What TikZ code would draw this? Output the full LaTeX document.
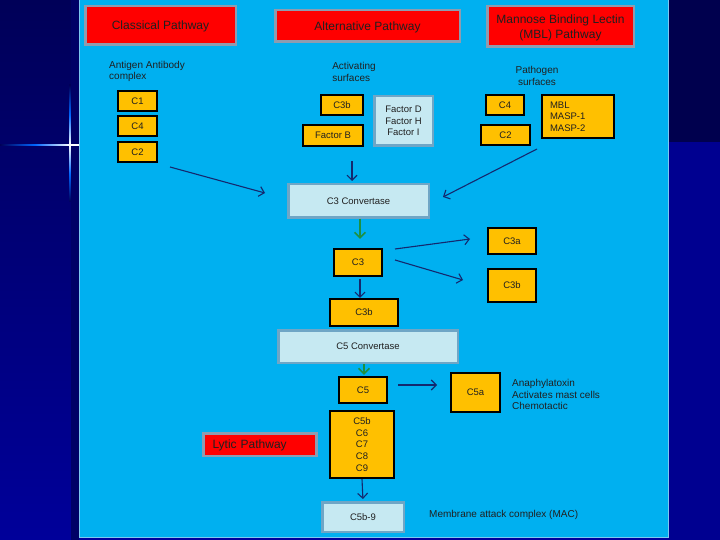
\documentclass[tikz,border=0pt]{standalone}
\usepackage{fontspec}
\setmainfont{Liberation Sans}
\usetikzlibrary{arrows.meta}
\definecolor{panel}{HTML}{00B0F0}
\definecolor{paneledge}{HTML}{7CC8F0}
\definecolor{bgtop}{HTML}{000058}
\definecolor{bgbot}{HTML}{00009A}
\definecolor{stripe}{HTML}{000066}
\definecolor{rtop}{HTML}{00004E}
\definecolor{rbot}{HTML}{000090}
\definecolor{redfill}{HTML}{FF0000}
\definecolor{rededge}{HTML}{8E9CB0}
\definecolor{yfill}{HTML}{FFC000}
\definecolor{lfill}{HTML}{C6E9F2}
\definecolor{ledge}{HTML}{6FA6C6}
\definecolor{arrcol}{HTML}{14286E}
\definecolor{grn}{HTML}{1E9040}
\definecolor{txt}{HTML}{202020}
\tikzset{
  redbox/.style={fill=redfill, draw=rededge, line width=2.5pt, align=center, inner sep=0pt,
    text=txt, text depth=0pt, font=\fontsize{12}{14}\selectfont},
  ybox/.style={fill=yfill, draw=black, line width=2.2pt, align=center, inner sep=0pt,
    text=txt, font=\fontsize{9.5}{11.6}\selectfont},
  lbox/.style={fill=lfill, draw=ledge, line width=2.5pt, align=center, inner sep=0pt,
    text=txt, font=\fontsize{9.5}{11.6}\selectfont},
  note/.style={text=txt, inner sep=0pt, font=\fontsize{10}{11.2}\selectfont},
  arr/.style={draw=arrcol, line width=1.1pt, -{Straight Barb[length=5pt,width=10pt]}},
  garr/.style={draw=grn, line width=1.6pt, -{Straight Barb[length=5.5pt,width=11pt]}},
}
\begin{document}
\begin{tikzpicture}[x=1pt,y=-1pt]
\useasboundingbox (0,0) rectangle (720,540);
% background
\shade[top color=bgtop, bottom color=bgbot] (0,0) rectangle (720,540);
\fill[stripe] (71,0) rectangle (79,540);
\fill[rtop] (668,0) rectangle (720,142);
\fill[rbot] (668,142) rectangle (720,540);
% sparkle
\shade[left color=bgtop, right color=white, middle color=blue!60!cyan] (0,144.3) rectangle (70,145.7);
\fill[white] (70,144.3) rectangle (79,145.7);
\shade[top color=bgtop, bottom color=white, middle color=blue!60!cyan] (69.3,85) rectangle (70.7,145);
\shade[top color=white, bottom color=bgtop, middle color=blue!60!cyan] (69.3,145) rectangle (70.7,202);
% panel
\fill[panel] (79,0) rectangle (669,538);
\draw[paneledge, line width=0.8pt] (79.4,0) -- (79.4,537.6) -- (668.6,537.6) -- (668.6,0);

% pathway titles
\node[redbox, minimum width=150.5, minimum height=38.5] (classical) at (160.5,25.5) {Classical Pathway};
\node[redbox, minimum width=184.5, minimum height=31.5] (alternative) at (367.5,26) {Alternative Pathway};
\node[redbox, minimum width=146.5, minimum height=40.5, font=\fontsize{12}{14.5}\selectfont] (mbl) at (560.5,26.5) {Mannose Binding Lectin\\(MBL) Pathway};

% surfaces labels
\node[note, anchor=north west, align=left] (antigen) at (109,61) {Antigen Antibody\\complex};
\node[note, align=left] (activating) at (354,72) {Activating\\surfaces};
\node[note, align=center] (pathogen) at (537,76) {Pathogen\\surfaces};

% classical components
\node[ybox, minimum width=39, minimum height=20] (c1) at (137.5,101) {C1};
\node[ybox, minimum width=39, minimum height=20] (c4) at (137.5,126) {C4};
\node[ybox, minimum width=39, minimum height=20] (c2) at (137.5,152) {C2};

% alternative components
\node[ybox, minimum width=42, minimum height=20] (c3bA) at (342,105) {C3b};
\node[ybox, minimum width=60, minimum height=21] (facB) at (333,135.5) {Factor B};
\node[lbox, minimum width=58.5, minimum height=49.5] (facDHI) at (403.5,121) {Factor D\\Factor H\\Factor I};

% MBL components
\node[ybox, minimum width=38, minimum height=20] (c4m) at (505,105) {C4};
\node[ybox, minimum width=49, minimum height=20] (c2m) at (505.5,135) {C2};
\node[ybox, minimum width=72, minimum height=43, align=left, text width=56pt] (mblbox) at (578,116.5) {MBL\\MASP-1\\MASP-2};

% convertases and cascade
\node[lbox, minimum width=140.5, minimum height=33.5] (conv3) at (358.5,201) {C3 Convertase};
\node[ybox, minimum width=48, minimum height=27] (c3) at (358,262.5) {C3};
\node[ybox, minimum width=48, minimum height=26] (c3a) at (512,241) {C3a};
\node[ybox, minimum width=48, minimum height=33] (c3bR) at (512,285.5) {C3b};
\node[ybox, minimum width=68, minimum height=27] (c3bB) at (364,312.5) {C3b};
\node[lbox, minimum width=179.5, minimum height=32.5] (conv5) at (368,346.5) {C5 Convertase};
\node[ybox, minimum width=48, minimum height=26] (c5) at (363,390) {C5};
\node[ybox, minimum width=49, minimum height=39] (c5a) at (475.5,392.5) {C5a};
\node[note, anchor=west, align=left] (anaph) at (512,394.5) {Anaphylatoxin\\Activates mast cells\\Chemotactic};
\node[ybox, minimum width=64, minimum height=67] (c5list) at (362,444.5) {C5b\\C6\\C7\\C8\\C9};
\node[redbox, minimum height=22.5, text width=95pt, align=left, inner xsep=9pt] (lytic) at (260,444.5) {Lytic Pathway};
\node[lbox, minimum width=81.5, minimum height=29.5] (c5b9) at (363,517) {C5b-9};
\node[note, anchor=west] (mac) at (429,515) {Membrane attack complex (MAC)};

% free ends of connectors
\coordinate (a1s) at (170,167);
\coordinate (a1e) at (265,193);
\coordinate (a2s) at (352,161);
\coordinate (a2e) at (352,181);
\coordinate (a3s) at (537,149);
\coordinate (a3e) at (443,197);
\coordinate (b1s) at (395,249);
\coordinate (b1e) at (470,239);
\coordinate (b2s) at (395,260);
\coordinate (b2e) at (463,280);
\coordinate (d1s) at (398,385);
\coordinate (d1e) at (437,385);
\coordinate (x360) at (360,0);
\coordinate (x364) at (364,0);

% connectors
\draw[arr] (a1s) -- (a1e);
\draw[arr] (a2s) -- (a2e);
\draw[arr] (a3s) -- (a3e);
\draw[garr, shorten >=9pt] (conv3.south -| x360) -- (c3.north -| x360);
\draw[arr] (b1s) -- (b1e);
\draw[arr] (b2s) -- (b2e);
\draw[arr, shorten <=2pt] (c3.south -| x360) -- (c3bB.north -| x360);
\draw[garr, shorten >=1pt] (conv5.south -| x364) -- (c5.north -| x364);
\draw[arr] (d1s) -- (d1e);
\draw[arr, shorten >=2pt] (c5list.south) -- (c5b9.north);
\end{tikzpicture}
\end{document}
